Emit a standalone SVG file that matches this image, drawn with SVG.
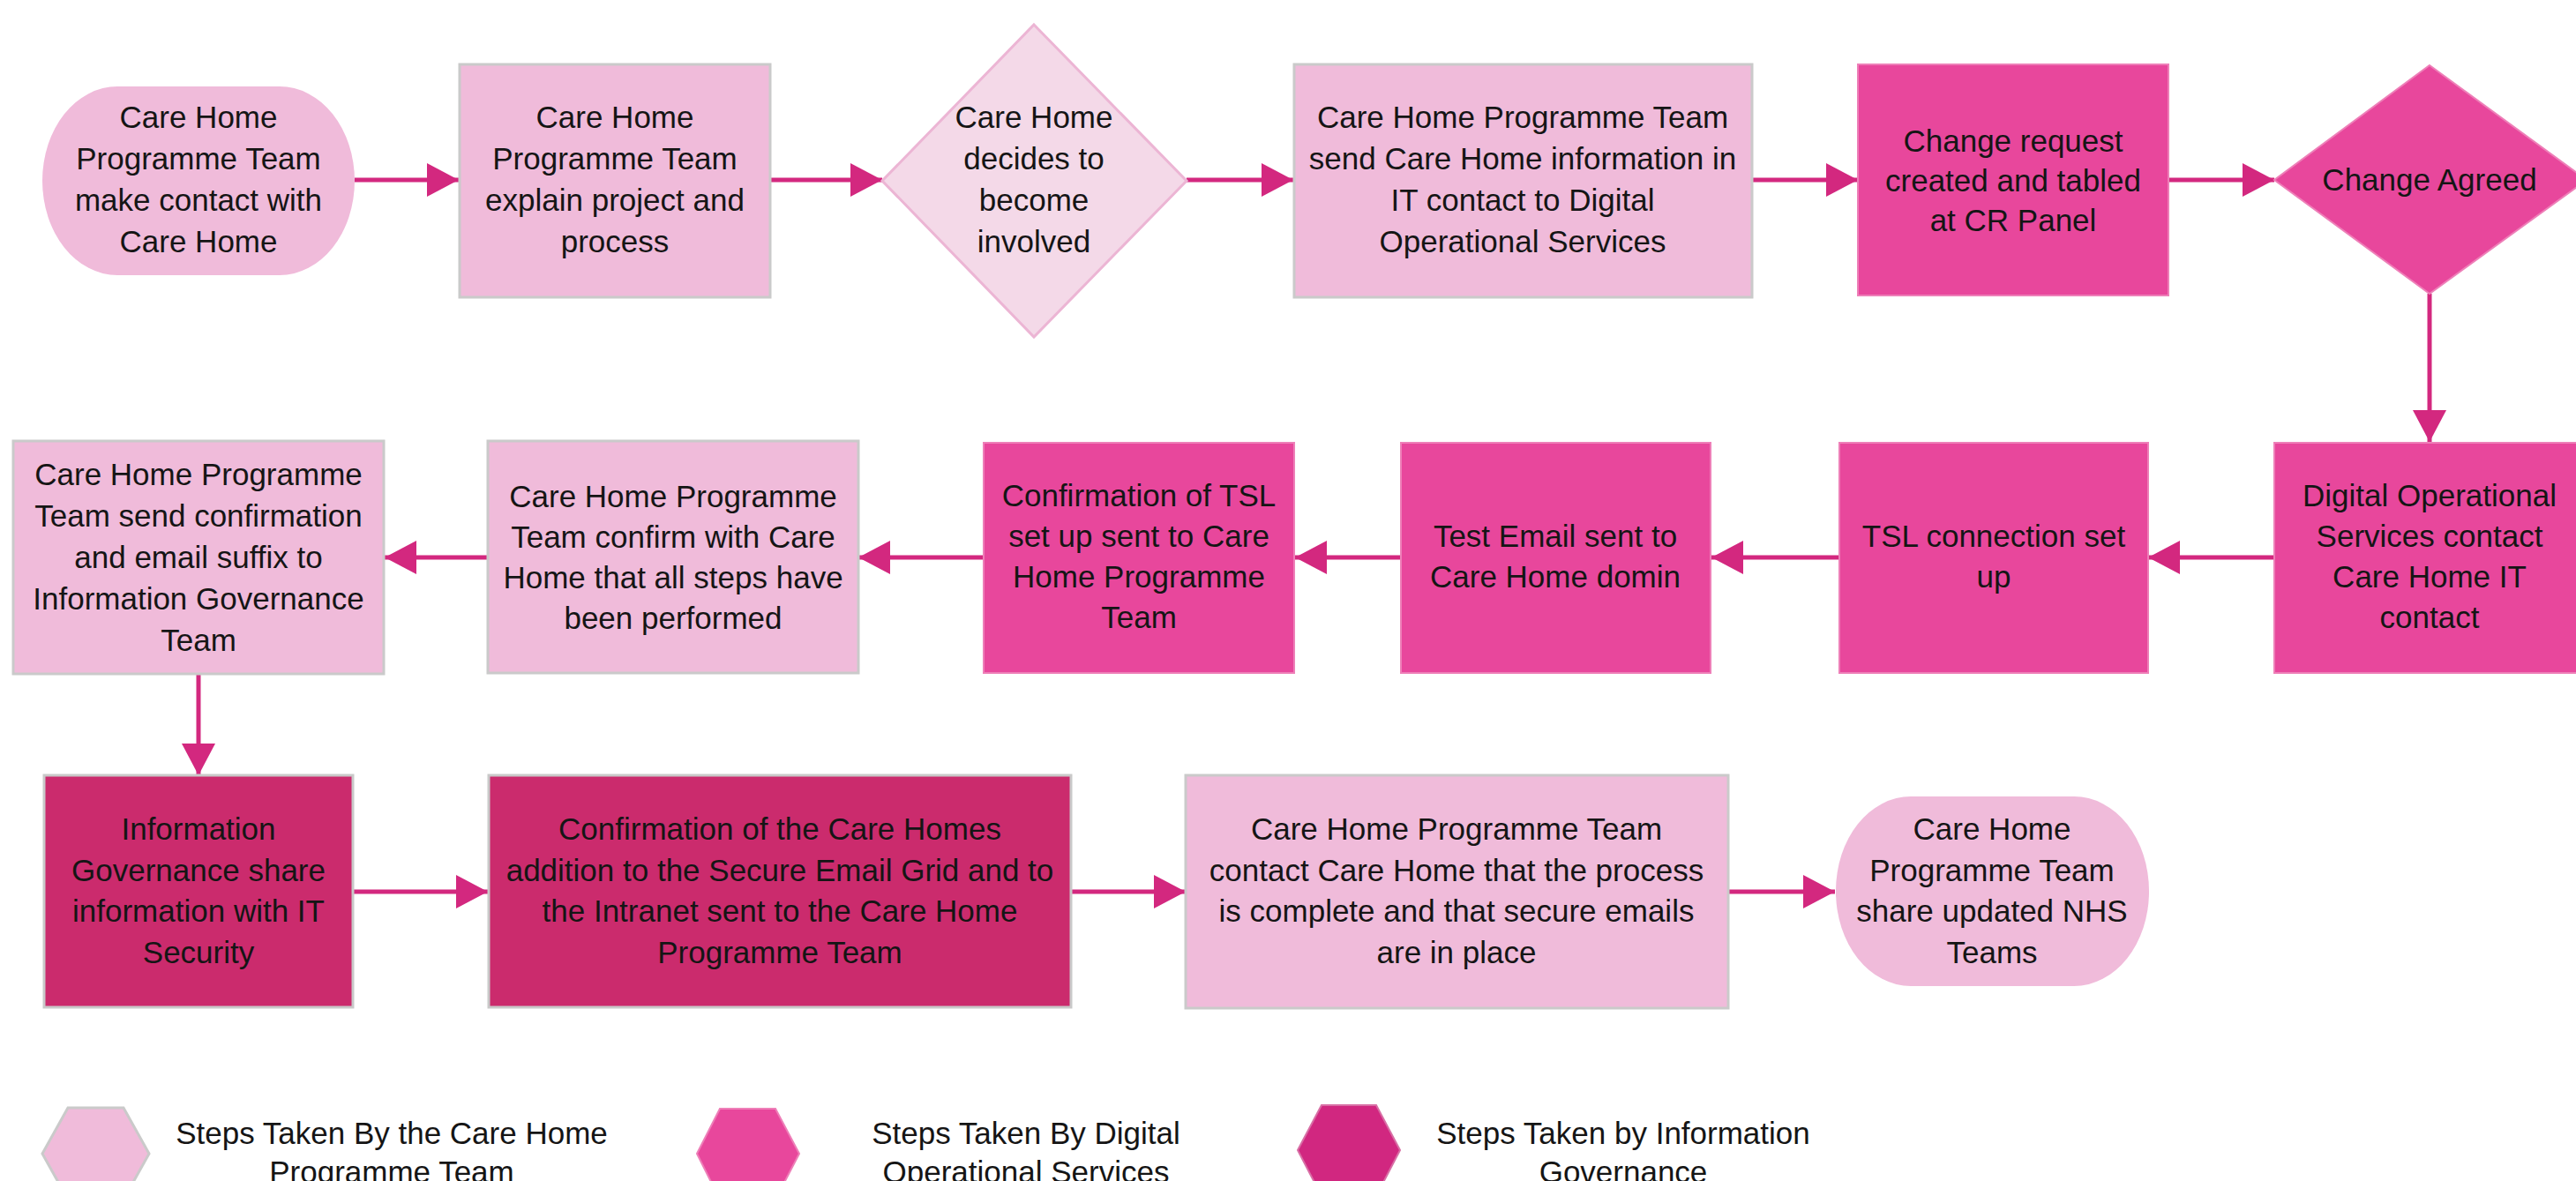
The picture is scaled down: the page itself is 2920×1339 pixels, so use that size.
<svg xmlns="http://www.w3.org/2000/svg" width="2920" height="1339" viewBox="0 0 2920 1339">
<style>
  text { font-family: "Liberation Sans", Arial, sans-serif; font-size: 35px; fill: #151515; text-anchor: middle; }
  .lt { fill: #F0BBDA; stroke: #CACACA; stroke-width: 3; }
  .lt-pill { fill: #F0BBDA; stroke: none; }
  .dec1 { fill: #F4D9E8; stroke: #ECB5D4; stroke-width: 3; }
  .mid { fill: #E8479C; stroke: #EE7FB8; stroke-width: 2; }
  .dk { fill: #CB2B6D; stroke: #C9C9C9; stroke-width: 3; }
  .hex-dk { fill: #D12780; stroke: #D86FA5; stroke-width: 2; }
  .conn { stroke: #D3287F; stroke-width: 5; fill: none; marker-end: url(#arrow); }
</style>
<defs>
  <marker id="arrow" markerUnits="userSpaceOnUse" markerWidth="36" markerHeight="38" refX="36" refY="19" orient="auto">
    <path d="M0,0 L36,19 L0,38 Z" fill="#D3287F"/>
  </marker>
</defs>
<rect x="0" y="0" width="2920" height="1339" fill="#FFFFFF"/>

<g id="connectors">
  <line class="conn" x1="402" y1="204" x2="520" y2="204"/>
  <line class="conn" x1="873" y1="204" x2="1000" y2="204"/>
  <line class="conn" x1="1345" y1="204" x2="1466" y2="204"/>
  <line class="conn" x1="1986" y1="204" x2="2106" y2="204"/>
  <line class="conn" x1="2458" y1="204" x2="2578" y2="204"/>
  <line class="conn" x1="2754" y1="333" x2="2754" y2="501"/>
  <line class="conn" x1="2578" y1="632" x2="2435" y2="632"/>
  <line class="conn" x1="2085" y1="632" x2="1940" y2="632"/>
  <line class="conn" x1="1587" y1="632" x2="1468" y2="632"/>
  <line class="conn" x1="1115" y1="632" x2="973" y2="632"/>
  <line class="conn" x1="553" y1="632" x2="436" y2="632"/>
  <line class="conn" x1="225" y1="765" x2="225" y2="879"/>
  <line class="conn" x1="400" y1="1011" x2="553" y2="1011"/>
  <line class="conn" x1="1214" y1="1011" x2="1344" y2="1011"/>
  <line class="conn" x1="1959" y1="1011" x2="2080" y2="1011"/>
</g>

<g id="n1">
  <rect class="lt-pill" x="48" y="98" width="354" height="214" rx="85" ry="107"/>
  <text x="225" y="145">Care Home</text>
  <text x="225" y="192">Programme Team</text>
  <text x="225" y="239">make contact with</text>
  <text x="225" y="286">Care Home</text>
</g>
<g id="n2">
  <rect class="lt" x="521" y="73" width="352" height="264"/>
  <text x="697" y="145">Care Home</text>
  <text x="697" y="192">Programme Team</text>
  <text x="697" y="239">explain project and</text>
  <text x="697" y="286">process</text>
</g>
<g id="n3">
  <polygon class="dec1" points="1172,28 1345,205 1172,382 1000,205"/>
  <text x="1172" y="145">Care Home</text>
  <text x="1172" y="192">decides to</text>
  <text x="1172" y="239">become</text>
  <text x="1172" y="286">involved</text>
</g>
<g id="n4">
  <rect class="lt" x="1467" y="73" width="519" height="264"/>
  <text x="1726" y="145">Care Home Programme Team</text>
  <text x="1726" y="192">send Care Home information in</text>
  <text x="1726" y="239">IT contact to Digital</text>
  <text x="1726" y="286">Operational Services</text>
</g>
<g id="n5">
  <rect class="mid" x="2106" y="73" width="352" height="262"/>
  <text x="2282" y="172">Change request</text>
  <text x="2282" y="217">created and tabled</text>
  <text x="2282" y="262">at CR Panel</text>
</g>
<g id="n6">
  <polygon class="mid" points="2754,74 2932,204 2754,333 2578,204"/>
  <text x="2754" y="216">Change Agreed</text>
</g>
<g id="n7">
  <rect class="mid" x="2578" y="502" width="352" height="261"/>
  <text x="2754" y="574">Digital Operational</text>
  <text x="2754" y="620">Services contact</text>
  <text x="2754" y="666">Care Home IT</text>
  <text x="2754" y="712">contact</text>
</g>
<g id="n8">
  <rect class="mid" x="2085" y="502" width="350" height="261"/>
  <text x="2260" y="620">TSL connection set</text>
  <text x="2260" y="666">up</text>
</g>
<g id="n9">
  <rect class="mid" x="1588" y="502" width="351" height="261"/>
  <text x="1763" y="620">Test Email sent to</text>
  <text x="1763" y="666">Care Home domin</text>
</g>
<g id="n10">
  <rect class="mid" x="1115" y="502" width="352" height="261"/>
  <text x="1291" y="574">Confirmation of TSL</text>
  <text x="1291" y="620">set up sent to Care</text>
  <text x="1291" y="666">Home Programme</text>
  <text x="1291" y="712">Team</text>
</g>
<g id="n11">
  <rect class="lt" x="553" y="500" width="420" height="263"/>
  <text x="763" y="575">Care Home Programme</text>
  <text x="763" y="621">Team confirm with Care</text>
  <text x="763" y="667">Home that all steps have</text>
  <text x="763" y="713">been performed</text>
</g>
<g id="n12">
  <rect class="lt" x="15" y="500" width="420" height="264"/>
  <text x="225" y="550">Care Home Programme</text>
  <text x="225" y="597">Team send confirmation</text>
  <text x="225" y="644">and email suffix to</text>
  <text x="225" y="691">Information Governance</text>
  <text x="225" y="738">Team</text>
</g>
<g id="n13">
  <rect class="dk" x="50" y="879" width="350" height="263"/>
  <text x="225" y="952">Information</text>
  <text x="225" y="999">Governance share</text>
  <text x="225" y="1045">information with IT</text>
  <text x="225" y="1092">Security</text>
</g>
<g id="n14">
  <rect class="dk" x="554" y="879" width="660" height="263"/>
  <text x="884" y="952">Confirmation of the Care Homes</text>
  <text x="884" y="999">addition to the Secure Email Grid and to</text>
  <text x="884" y="1045">the Intranet sent to the Care Home</text>
  <text x="884" y="1092">Programme Team</text>
</g>
<g id="n15">
  <rect class="lt" x="1344" y="879" width="615" height="264"/>
  <text x="1651" y="952">Care Home Programme Team</text>
  <text x="1651" y="999">contact Care Home that the process</text>
  <text x="1651" y="1045">is complete and that secure emails</text>
  <text x="1651" y="1092">are in place</text>
</g>
<g id="n16">
  <rect class="lt-pill" x="2081" y="903" width="355" height="215" rx="85" ry="107"/>
  <text x="2258" y="952">Care Home</text>
  <text x="2258" y="999">Programme Team</text>
  <text x="2258" y="1045">share updated NHS</text>
  <text x="2258" y="1092">Teams</text>
</g>

<g id="legend">
  <g id="legend-1">
    <polygon class="lt" points="48,1308 77,1256 140,1256 169,1308 140,1360 77,1360"/>
    <text x="444" y="1297">Steps Taken By the Care Home</text>
    <text x="444" y="1341">Programme Team</text>
  </g>
  <g id="legend-2">
    <polygon class="mid" points="790,1308 816,1257 879,1257 906,1308 879,1360 816,1360"/>
    <text x="1163" y="1297">Steps Taken By Digital</text>
    <text x="1163" y="1341">Operational Services</text>
  </g>
  <g id="legend-3">
    <polygon class="hex-dk" points="1471,1304 1498,1253 1560,1253 1587,1304 1560,1356 1498,1356"/>
    <text x="1840" y="1297">Steps Taken by Information</text>
    <text x="1840" y="1341">Governance</text>
  </g>
</g>
</svg>
